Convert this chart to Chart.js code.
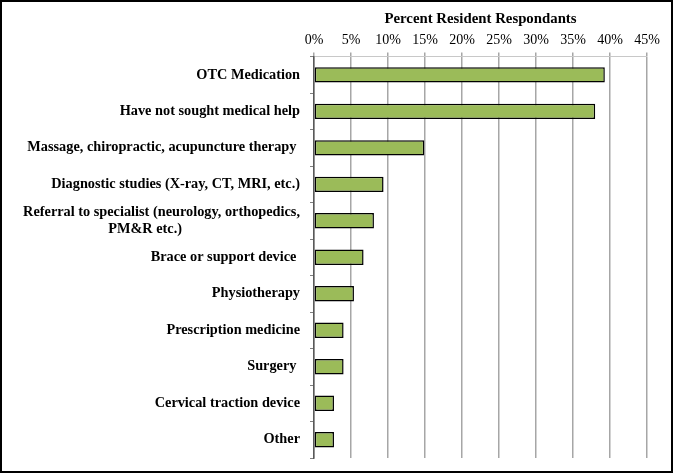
<!DOCTYPE html>
<html lang="en">
<head>
  <meta charset="UTF-8">
  <title>Percent Resident Respondants</title>
  <script src="https://cdn.jsdelivr.net/npm/chart.js"></script>
  <style>
    html, body { margin: 0; padding: 0; background: #fff; }
    #frame {
      width: 673px;
      height: 473px;
      box-sizing: border-box;
      border: 2px solid #000;
    }
    #frame canvas { display: block; }
  </style>
</head>
<body>

<div id="frame">
  <canvas id="myChart" width="669" height="469"></canvas>
</div>

<script>
  // categories, top to bottom
  var categories = [
    'OTC Medication',
    'Have not sought medical help',
    'Massage, chiropractic, acupuncture therapy ',
    'Diagnostic studies (X-ray, CT, MRI, etc.)',
    ['Referral to specialist (neurology, orthopedics,', 'PM&R etc.)                                 '],
    'Brace or support device ',
    'Physiotherapy',
    'Prescription medicine',
    'Surgery ',
    'Cervical traction device',
    'Other'
  ];

  // percent of resident respondants
  var percentValues = [39.3, 38.0, 14.9, 9.4, 8.1, 6.7, 5.4, 4.0, 4.0, 2.7, 2.7];

  // x axis ticks
  var tickValues = [0, 5, 10, 15, 20, 25, 30, 35, 40, 45];

  var serif = "'Liberation Serif', 'DejaVu Serif', serif";

  var ctx = document.getElementById('myChart').getContext('2d');
  var myChart = new Chart(ctx, {
    type: 'bar',
    data: {
      labels: categories,
      datasets: [{
        label: 'Percent Resident Respondants',
        data: percentValues,
        backgroundColor: '#9bbb59',
        borderColor: '#000000',
        borderWidth: 1.5,
        borderSkipped: false,
        categoryPercentage: 1,
        barPercentage: 0.42
      }]
    },
    options: {
      indexAxis: 'y',
      responsive: false,
      animation: false,
      layout: {
        padding: { left: 0, right: 24, top: 8, bottom: 13 }
      },
      plugins: {
        legend: { display: false },
        tooltip: { enabled: false }
      },
      scales: {
        x: {
          position: 'top',
          min: tickValues[0],
          max: tickValues[tickValues.length - 1],
          afterBuildTicks: function(scale) {
            scale.ticks = tickValues.map(function(v) { return { value: v }; });
          },
          title: {
            display: true,
            text: 'Percent Resident Respondants',
            color: '#000',
            font: { family: serif, size: 14.8, weight: 'bold' },
            padding: { top: 0, bottom: 0 }
          },
          ticks: {
            color: '#000',
            font: { family: serif, size: 14 },
            padding: 4,
            callback: function(value) { return value + '%'; }
          },
          grid: {
            color: '#a6a6a6',
            lineWidth: 1.5,
            tickLength: 4
          },
          border: { color: '#c8c8c8', width: 1 }
        },
        y: {
          afterFit: function(scale) {
            scale.width = 312;
            scale.paddingTop = 0;
            scale.paddingBottom = 0;
          },
          ticks: {
            autoSkip: false,
            color: '#000',
            font: { family: serif, size: 14.3, weight: 'bold', lineHeight: 1.2 },
            padding: 10
          },
          grid: {
            offset: true,
            drawOnChartArea: false,
            color: '#808080',
            tickLength: 4
          },
          border: { color: '#595959', width: 1.5 }
        }
      }
    }
  });
</script>

</body>
</html>
